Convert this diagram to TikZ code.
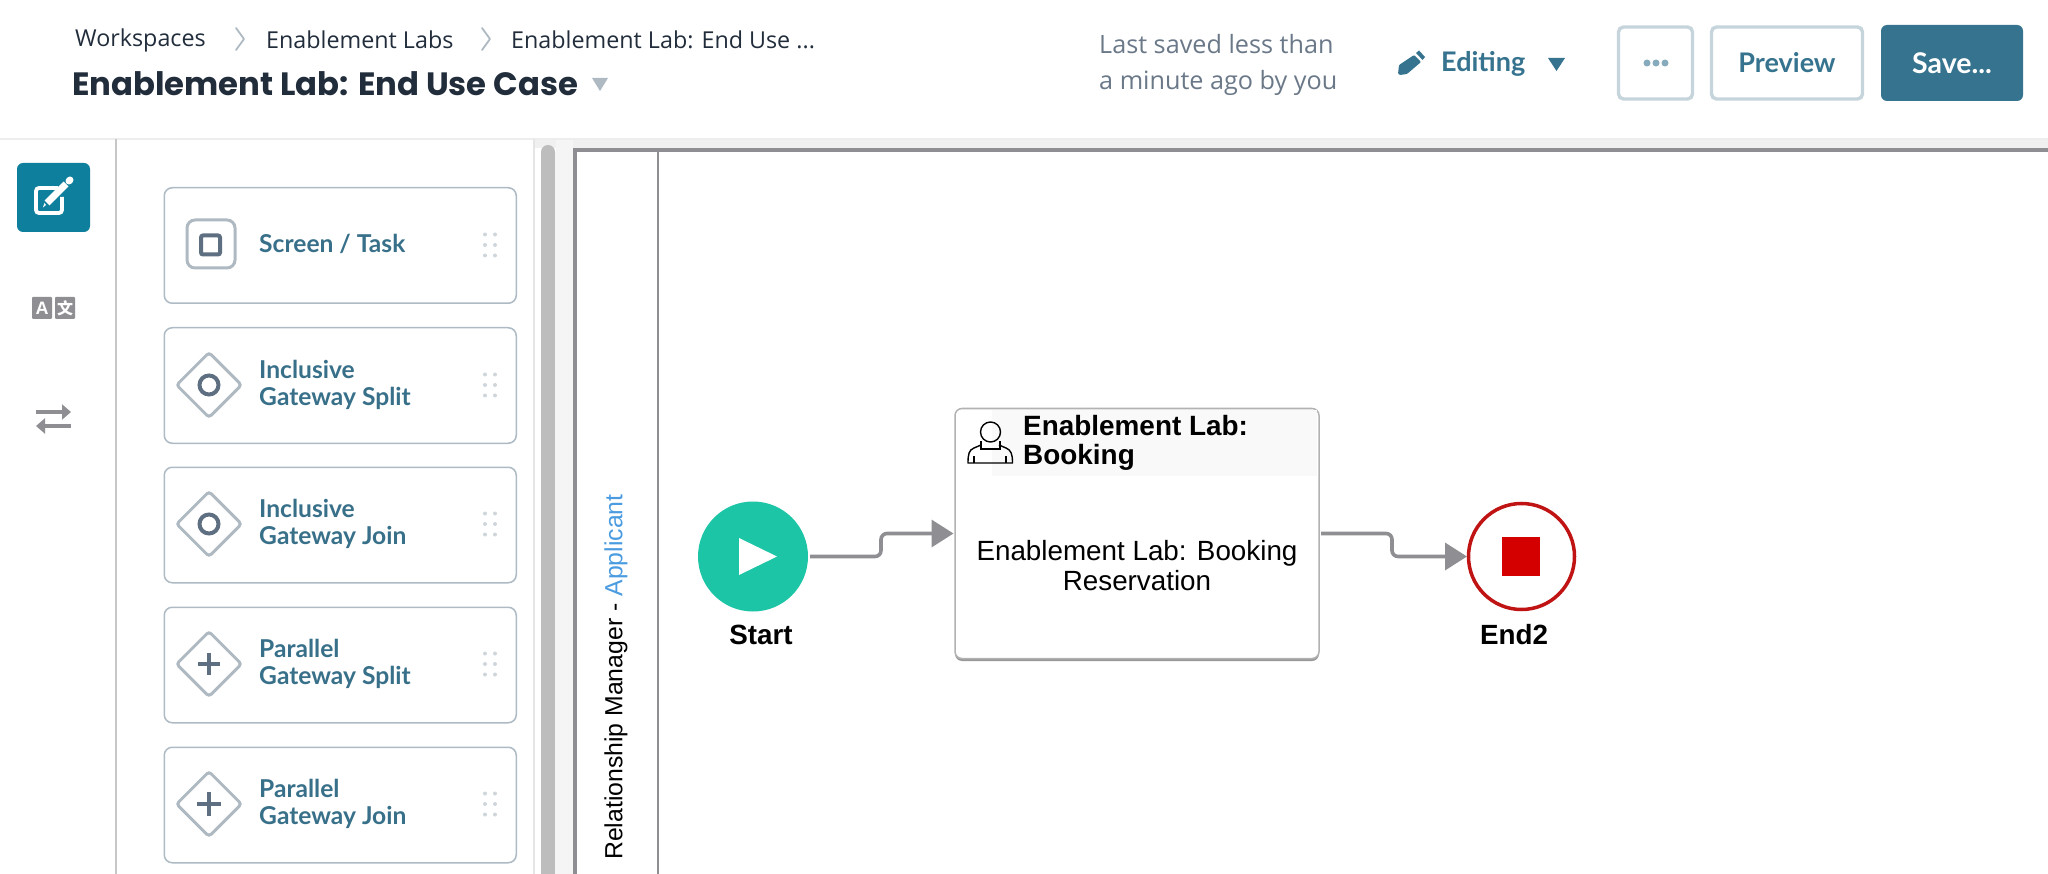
\documentclass[tikz,border=0pt]{standalone}
\usepackage{fontspec}
\usetikzlibrary{arrows.meta,shapes.geometric,shadows}
\setmainfont{Liberation Sans}
\newfontfamily\uifont{Open Sans}
\newfontfamily\uimed{Lato}
\newfontfamily\titlefont{Poppins}
\newfontfamily\cjkf{Noto Sans CJK SC}
\definecolor{teal}{HTML}{36738F}
\definecolor{tealtx}{HTML}{38708A}
\definecolor{editbg}{HTML}{0F7F9E}
\definecolor{cardline}{HTML}{AEBBC5}
\definecolor{slatei}{HTML}{5F6F82}
\definecolor{iconline}{HTML}{AEB9C2}
\definecolor{gry}{HTML}{8E8E93}
\definecolor{btnline}{HTML}{C6D5DC}
\definecolor{dotc}{HTML}{CFD6DB}
\definecolor{gtxt}{HTML}{6A7888}
\definecolor{dark}{HTML}{222D3C}
\definecolor{startg}{HTML}{1BC5A6}
\definecolor{endr}{HTML}{C01414}
\definecolor{endf}{HTML}{D40000}
\definecolor{laneb}{HTML}{4A9BE0}
\tikzset{
 crumb/.style={inner sep=0,anchor=west,text=dark,font=\uifont\fontsize{23.3}{27}\selectfont},
 chev/.style={draw=iconline,line width=1.8pt,line cap=round,line join=round},
 saved/.style={inner sep=0,anchor=west,text=gtxt,font=\uifont\fontsize{25.2}{29}\selectfont},
 btn/.style={draw=btnline,line width=3.4pt,rounded corners=5pt,fill=white,inner sep=0},
 card/.style={draw=cardline,line width=1.5pt,rounded corners=8pt,fill=white,inner sep=0,minimum width=352pt,minimum height=115.5pt,anchor=north west},
 cardtxt/.style={inner sep=0,anchor=west,align=left,text=tealtx,font=\uimed\bfseries\fontsize{24.6}{27}\selectfont},
 gdiamond/.style={draw=iconline,line width=3pt,diamond,aspect=1,minimum width=66pt,minimum height=66pt,inner sep=0,rounded corners=3pt},
 gmark/.style={draw=slatei,line width=4pt},
 dragdot/.style={fill=dotc},
 flow/.style={draw=gry,line width=3.6pt,rounded corners=6pt,-{Triangle[length=22pt,width=27pt]},shorten >=1.5pt,shorten <=2pt},
 blab/.style={inner sep=0,font=\bfseries\fontsize{27.8}{30}\selectfont,text=black},
}
\newcommand{\dragdots}[1]{%
 \foreach \dx in {485,495}{\foreach \dy in {-10.5,0,10.5}{\fill[dragdot] (\dx,#1+\dy) circle (2pt);}}}
\begin{document}
\begin{tikzpicture}[x=1pt,y=-1pt]
\useasboundingbox (0,0) rectangle (2048,874);
\fill[white] (0,0) rectangle (2048,874);
% shell
\fill[black!7] (0,138) rectangle (2048,140);
\fill[black!6] (534,140) rectangle (2048,148);
\fill[black!4] (556,140) rectangle (573,874);
\draw[black!22,line width=1.5pt] (116,139) -- (116,874);
\draw[black!10,line width=1.5pt] (534,139) -- (534,874);
\fill[black!26,rounded corners=7pt] (541,145) rectangle (555,890);
% header
\node[crumb] (c1) at (75,40) {Workspaces};
\draw[chev] (236,28) -- (244,39) -- (236,50);
\node[crumb] (c2) at (266,40) {Enablement Labs};
\draw[chev] (482,28) -- (490,39) -- (482,50);
\node[crumb] (c3) at (511,40) {Enablement Lab: End Use ...};
\node[inner sep=0,anchor=west,text=dark,font=\titlefont\bfseries\fontsize{32.3}{38}\selectfont] (title) at (72,84) {Enablement Lab: End Use Case};
\fill[iconline] (592,78) -- (608,78) -- (600,91) -- cycle;
\node[saved] (s1) at (1099,44) {Last saved less than};
\node[saved] (s2) at (1099,83) {a minute ago by you};
\fill[teal,rounded corners=1pt] (1400,75) -- (1398,74) -- (1399,65) -- (1414,55) -- (1421,62) -- (1407,74) -- cycle;
\fill[teal] (1416,53) -- (1419,50.5) -- (1425,57) -- (1422.5,60) -- cycle;
\node[inner sep=0,anchor=west,text=teal,font=\uimed\bfseries\fontsize{27}{28}\selectfont] (editing) at (1441,64) {Editing};
\fill[teal] (1548,58) -- (1565,58) -- (1556.5,71) -- cycle;
\node[btn,minimum width=74pt,minimum height=72pt] (more) at (1655.5,63) {};
\foreach \dx in {-9,0,9}{\fill[teal!60] (1656+\dx,63) circle (3.5pt);}
\node[btn,minimum width=151pt,minimum height=72pt,text=teal,font=\uimed\bfseries\fontsize{27}{28}\selectfont] (preview) at (1787,63) {Preview};
\node[fill=teal,rounded corners=6pt,minimum width=142pt,minimum height=76pt,inner sep=0,text=white,font=\uimed\bfseries\fontsize{28.5}{28}\selectfont] (save) at (1952,63) {Save...};
% left icons
\node[fill=editbg,rounded corners=6pt,minimum width=73pt,minimum height=69pt,inner sep=0] (editbtn) at (53.5,197.5) {};
\draw[white,line width=3.8pt,rounded corners=3pt] (58,188) -- (36,188) -- (36,213) -- (62,213) -- (62,197);
\draw[white,line width=7pt] (47,203) -- (66,184);
\fill[white] (46,205) -- (43,207.5) -- (44.5,203) -- cycle;
\draw[white,line width=7pt,line cap=round] (69,181) -- (70,180);
\node[fill=gry,rounded corners=1pt,minimum width=20pt,minimum height=22pt,inner sep=0,text=white,font=\bfseries\fontsize{18}{18}\selectfont] (trA) at (42,308) {A};
\node[fill=gry,rounded corners=1pt,minimum width=20pt,minimum height=22pt,inner sep=0,text=white,font=\cjkf\bfseries\fontsize{16}{16}\selectfont] (trB) at (65,308) {文};
\draw[gry,line width=4pt,-{Triangle[length=9pt,width=15pt]}] (36,412) -- (71,412);
\draw[gry,line width=4pt,-{Triangle[length=9pt,width=15pt]}] (71,426) -- (36,426);
% cards
\node[card] (card1) at (163.5,187) {};
\node[card] (card2) at (163.5,327) {};
\node[card] (card3) at (163.5,466.5) {};
\node[card] (card4) at (163.5,606.5) {};
\node[card] (card5) at (163.5,746.5) {};
\dragdots{245} \dragdots{385} \dragdots{524} \dragdots{664} \dragdots{804}
\node[draw=iconline,line width=3pt,rounded corners=8pt,minimum size=48pt,inner sep=0] (ic1) at (211,244) {};
\node[draw=slatei,line width=4pt,rounded corners=2pt,minimum size=19pt,inner sep=0] (ic1b) at (210.5,245) {};
\node[cardtxt] (t1) at (259,244) {Screen / Task};
\node[gdiamond] (d2) at (209,385) {};
\draw[gmark] (209,385) circle (9.5pt);
\node[cardtxt] (t2) at (259,384.5) {Inclusive\\Gateway Split};
\node[gdiamond] (d3) at (209,524) {};
\draw[gmark] (209,524) circle (9.5pt);
\node[cardtxt] (t3) at (259,524) {Inclusive\\Gateway Join};
\node[gdiamond] (d4) at (209,664) {};
\draw[gmark] (198,664) -- (220,664) (209,653) -- (209,675);
\node[cardtxt] (t4) at (259,664) {Parallel\\Gateway Split};
\node[gdiamond] (d5) at (209,804) {};
\draw[gmark] (197,804) -- (221,804) (209,792) -- (209,816);
\node[cardtxt] (t5) at (259,804) {Parallel\\Gateway Join};
% pool frame
\draw[gry,line width=4pt] (2048,150.5) -- (575,150.5) -- (575,874);
\draw[gry,line width=1.5pt] (658,152) -- (658,874);
\node[rotate=90,anchor=west,inner sep=0,font=\fontsize{24.8}{28}\selectfont] (lane) at (616,860) {Relationship Manager - {\color{laneb}Applicant}};
% process
\node[circle,fill=startg,minimum size=110pt,inner sep=0,outer sep=0] (start) at (753,556.5) {};
\fill[white] (739,538) -- (777,556.5) -- (739,575) -- cycle;
\node[blab] (startl) at (761,635) {Start};
\node[draw=black!30,line width=1.5pt,fill=white,rounded corners=7pt,minimum width=364pt,minimum height=250pt,inner sep=0,outer sep=0,drop shadow={shadow xshift=0pt,shadow yshift=-2.5pt,opacity=.4,fill=black},align=center] (task) at (1137,533.5) {};
\fill[black!2.5] (992,410) rectangle (1317,476);
\node[inner sep=0,align=center,font=\fontsize{27.8}{30}\selectfont] (body) at (1137,566) {Enablement Lab: Booking\\Reservation};
\node[inner sep=0,anchor=west,align=left,font=\bfseries\fontsize{27.9}{29}\selectfont] (head) at (1023,442.5) {Enablement Lab:\\Booking};
% user icon
\draw[black,line width=1.4pt,line join=round] (981,445) -- (974,448) .. controls (969,450) and (968,454) .. (968,463) -- (1012.5,463) .. controls (1012.5,454) and (1011,450) .. (1006,448) -- (999,445);
\draw[black,line width=1.4pt] (990.5,432) circle (10pt);
\draw[black,line width=1.2pt] (981,441) -- (981,449) -- (1000,449) -- (1000,441);
\draw[black,line width=1.2pt] (974,463) -- (974,456) (1006,463) -- (1006,456);
\node[circle,draw=endr,line width=3.5pt,fill=white,minimum size=106pt,inner sep=0,outer sep=0] (endn) at (1521.5,556.5) {};
\fill[endf] (1502,537) rectangle (1540,576);
\node[blab] (endl) at (1514,635) {End2};
\coordinate (b1) at (881,533.5);
\coordinate (b2) at (1392,556.5);
\draw[flow] (start.east) -| (b1) -- (task.west);
\draw[flow] (task.east) -| (b2) -- (endn.west);
\end{tikzpicture}
\end{document}
